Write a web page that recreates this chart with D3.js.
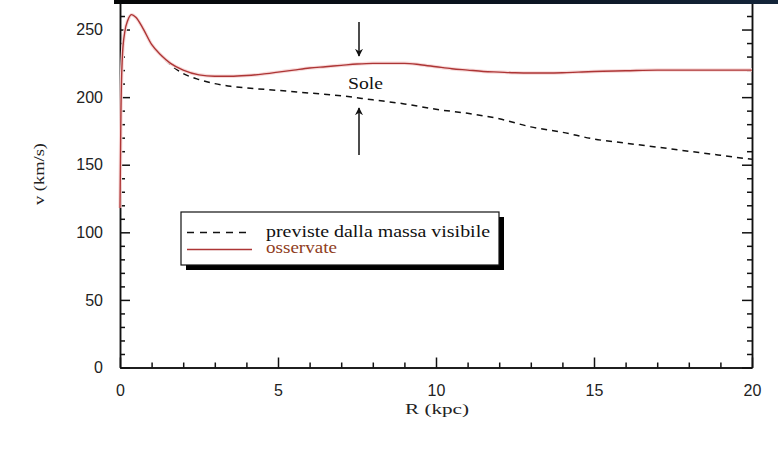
<!DOCTYPE html>
<meta charset="utf-8">
<style>
body { margin: 0; background: #fff; }
.axis path, .axis line { stroke: #111; stroke-width: 1.5; }
.axis text { font-family: "Liberation Sans", Arial, sans-serif; font-size: 16px; fill: #222; }
.title { font-family: "Liberation Serif", "Times New Roman", serif; font-size: 15px; fill: #222; }
</style>
<svg width="778" height="469"></svg>
<script src="https://d3js.org/d3.v7.min.js"></script>
<script>

// velocità osservate (curva rossa)
var obsR = [0, 0.03, 0.08, 0.15, 0.25, 0.37, 0.5, 0.7, 1.0, 1.3, 1.6, 2.0, 2.5, 3.0, 3.5, 4.0, 4.5, 5.0, 5.5, 6.0, 6.5, 7.0, 7.5, 8.0, 8.5, 9.0, 9.5, 10.0, 10.5, 11.0, 11.5, 12.0, 12.5, 13.0, 13.5, 14.0, 14.5, 15.0, 16.0, 17.0, 18.0, 19.0, 20.0];
var obsV = [118, 190, 232, 248, 257, 261, 259, 252, 239, 231, 225, 220, 216.5, 215.5, 215.5, 216, 217, 218.5, 220, 221.5, 222.5, 223.5, 224.5, 225, 225, 225, 224, 222.5, 221, 220, 219, 218.5, 218, 217.8, 217.8, 218, 218.5, 219, 219.5, 220, 220, 220, 220];

// velocità previste dalla massa visibile (tratteggio)
var prevR = [0, 0.03, 0.08, 0.15, 0.25, 0.37, 0.5, 0.7, 1.0, 1.3, 1.6, 2.0, 2.5, 3.0, 3.5, 4.0, 5.0, 6.0, 7.0, 8.0, 9.0, 10.0, 11.0, 12.0, 13.0, 14.0, 15.0, 16.0, 17.0, 18.0, 19.0, 20.0];
var prevV = [118, 190, 232, 248, 257, 261, 259, 252, 239, 231, 224, 217.5, 213, 210, 208, 206.8, 205, 203, 201, 198, 195, 191, 188, 184, 178, 174, 169, 166, 163, 160, 157, 154];

var xTicks = [0, 5, 10, 15, 20];
var yTicks = [0, 50, 100, 150, 200, 250];

var svg = d3.select("svg");

var x = d3.scaleLinear().domain([0, 20]).range([120, 752]),
    y = d3.scaleLinear().domain([0, 270]).range([367.5, 2.5]);

var xMinor = d3.range(0, 21).filter(function(d) { return d % 5 !== 0; }),
    yMinor = d3.range(0, 271, 10).filter(function(d) { return d % 50 !== 0; });

// bordo superiore
svg.append("line")
    .attr("x1", x(0)).attr("x2", x(20))
    .attr("y1", y(270)).attr("y2", y(270))
    .attr("stroke", "#111").attr("stroke-width", 1.5);

// assi
svg.append("g")
    .attr("class", "axis")
    .attr("transform", "translate(0," + y(0) + ")")
    .call(d3.axisBottom(x).tickValues(xTicks).tickSize(-10).tickSizeOuter(0).tickPadding(17));

svg.append("g")
    .attr("class", "axis")
    .attr("transform", "translate(0," + y(0) + ")")
    .call(d3.axisBottom(x).tickValues(xMinor).tickSize(-5).tickSizeOuter(0).tickFormat(""));

svg.append("g")
    .attr("class", "axis")
    .attr("transform", "translate(" + x(0) + ",0)")
    .call(d3.axisLeft(y).tickValues(yTicks).tickSize(-10).tickSizeOuter(0).tickPadding(17));

svg.append("g")
    .attr("class", "axis")
    .attr("transform", "translate(" + x(0) + ",0)")
    .call(d3.axisLeft(y).tickValues(yMinor).tickSize(-5).tickSizeOuter(0).tickFormat(""));

svg.append("g")
    .attr("class", "axis")
    .attr("transform", "translate(" + x(20) + ",0)")
    .call(d3.axisRight(y).tickValues(yTicks).tickSize(-10).tickSizeOuter(0).tickFormat(""));

svg.append("g")
    .attr("class", "axis")
    .attr("transform", "translate(" + x(20) + ",0)")
    .call(d3.axisRight(y).tickValues(yMinor).tickSize(-5).tickSizeOuter(0).tickFormat(""));

// titoli assi
svg.append("text")
    .attr("class", "title")
    .attr("x", 405).attr("y", 414)
    .attr("textLength", 64).attr("lengthAdjust", "spacingAndGlyphs")
    .text("R (kpc)");

svg.append("text")
    .attr("class", "title")
    .attr("transform", "translate(44,205) rotate(-90)")
    .attr("textLength", 62).attr("lengthAdjust", "spacingAndGlyphs")
    .text("v (km/s)");

// curve
var line = d3.line()
    .x(function(d) { return x(d[0]); })
    .y(function(d) { return y(d[1]); })
    .curve(d3.curveMonotoneX);

var obs = obsR.map(function(r, i) { return [r, obsV[i]]; }),
    prev = prevR.map(function(r, i) { return [r, prevV[i]]; });

svg.append("path")
    .attr("d", line(prev))
    .attr("fill", "none")
    .attr("stroke", "#111")
    .attr("stroke-width", 1.5)
    .attr("stroke-dasharray", "6,5");

svg.append("path")
    .attr("d", line(obs))
    .attr("fill", "none")
    .attr("stroke", "#f7dada")
    .attr("stroke-width", 3.5);

svg.append("path")
    .attr("d", line(obs))
    .attr("fill", "none")
    .attr("stroke", "#ad3535")
    .attr("stroke-width", 1.4);

// frecce "Sole"
var defs = svg.append("defs");
defs.append("marker")
    .attr("id", "head")
    .attr("viewBox", "0 0 10 10")
    .attr("refX", 9).attr("refY", 5)
    .attr("markerWidth", 8).attr("markerHeight", 8)
    .attr("markerUnits", "userSpaceOnUse")
    .attr("orient", "auto")
  .append("path")
    .attr("d", "M0,0 L10,5 L0,10 L3,5 Z")
    .attr("fill", "#111");

svg.append("line")
    .attr("x1", 359).attr("y1", 22).attr("x2", 359).attr("y2", 56)
    .attr("stroke", "#111").attr("stroke-width", 1.5)
    .attr("marker-end", "url(#head)");

svg.append("line")
    .attr("x1", 359).attr("y1", 155).attr("x2", 359).attr("y2", 108)
    .attr("stroke", "#111").attr("stroke-width", 1.5)
    .attr("marker-end", "url(#head)");

svg.append("text")
    .attr("x", 348).attr("y", 89)
    .attr("textLength", 35).attr("lengthAdjust", "spacingAndGlyphs")
    .style("font-family", "'Liberation Serif', serif")
    .style("font-size", "17px")
    .attr("fill", "#111")
    .text("Sole");

// legenda
var lg = svg.append("g");
lg.append("rect")
    .attr("x", 186).attr("y", 217).attr("width", 318).attr("height", 53)
    .attr("fill", "#000");
lg.append("rect")
    .attr("x", 181).attr("y", 212).attr("width", 318).attr("height", 53)
    .attr("fill", "#fff").attr("stroke", "#111").attr("stroke-width", 1.2);

lg.append("line")
    .attr("x1", 187).attr("x2", 250).attr("y1", 232.5).attr("y2", 232.5)
    .attr("stroke", "#111").attr("stroke-width", 1.5)
    .attr("stroke-dasharray", "7,6");
lg.append("line")
    .attr("x1", 187).attr("x2", 252).attr("y1", 249.5).attr("y2", 249.5)
    .attr("stroke", "#ad3535").attr("stroke-width", 1.5);

lg.append("text")
    .attr("x", 266).attr("y", 237)
    .attr("textLength", 224).attr("lengthAdjust", "spacingAndGlyphs")
    .style("font-family", "'Liberation Serif', serif")
    .style("font-size", "16px")
    .attr("fill", "#111")
    .text("previste dalla massa visibile");
lg.append("text")
    .attr("x", 266).attr("y", 253)
    .attr("textLength", 71).attr("lengthAdjust", "spacingAndGlyphs")
    .style("font-family", "'Liberation Serif', serif")
    .style("font-size", "16px")
    .attr("fill", "#8f3d1c")
    .text("osservate");

// banda scura in alto
var grad = defs.append("linearGradient").attr("id", "band");
grad.append("stop").attr("offset", "0%").attr("stop-color", "#050607");
grad.append("stop").attr("offset", "60%").attr("stop-color", "#0b1420");
grad.append("stop").attr("offset", "100%").attr("stop-color", "#14253a");
svg.append("rect")
    .attr("x", 114).attr("y", 0).attr("width", 664).attr("height", 4)
    .attr("fill", "url(#band)");

</script>
